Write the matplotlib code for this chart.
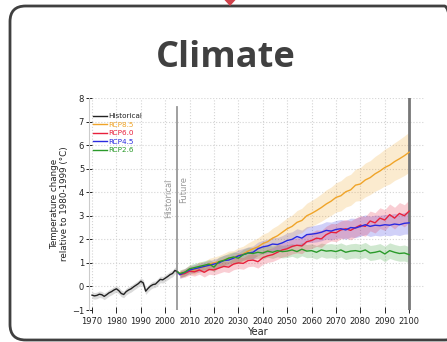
import numpy as np
import matplotlib
matplotlib.use("Agg")
import matplotlib.pyplot as plt
from matplotlib.patches import FancyBboxPatch, Polygon

# ---------------- data ----------------
title = "Climate"
hist_years = list(range(1970, 2006))
hist_vals = [-0.37, -0.40, -0.38, -0.33, -0.35, -0.42, -0.35, -0.27, -0.22, -0.15,
             -0.10, -0.18, -0.30, -0.34, -0.22, -0.15, -0.10, -0.02, 0.05, 0.12,
             0.22, 0.15, -0.20, -0.08, 0.02, 0.08, 0.10, 0.20, 0.30, 0.28,
             0.35, 0.42, 0.50, 0.55, 0.68, 0.62]
hist_spread = 0.14

fut_years = list(range(2006, 2101, 2))
rcp85 = [0.55, 0.60, 0.72, 0.70, 0.85, 0.82, 0.95, 1.00,
         1.05, 1.12, 1.20, 1.22, 1.32, 1.38, 1.50, 1.60,
         1.68, 1.82, 1.90, 2.05, 2.15, 2.30, 2.45, 2.55,
         2.72, 2.80, 3.00, 3.10, 3.22, 3.35, 3.50, 3.62,
         3.78, 3.85, 4.02, 4.10, 4.30, 4.35, 4.52, 4.62,
         4.78, 4.90, 5.05, 5.15, 5.30, 5.42, 5.55, 5.70]
rcp60 = [0.50, 0.55, 0.65, 0.62, 0.70, 0.60, 0.72, 0.70,
         0.78, 0.85, 0.82, 0.95, 1.00, 0.98, 1.10, 1.12,
         1.05, 1.22, 1.30, 1.35, 1.45, 1.55, 1.60, 1.70,
         1.75, 1.72, 1.90, 1.95, 2.05, 2.02, 2.20, 2.30,
         2.28, 2.40, 2.45, 2.38, 2.50, 2.60, 2.55, 2.78,
         2.70, 2.90, 2.82, 3.05, 2.90, 3.10, 3.00, 3.20]
rcp45 = [0.50, 0.60, 0.70, 0.75, 0.80, 0.85, 0.90, 0.95,
         1.00, 1.10, 1.12, 1.20, 1.30, 1.35, 1.42, 1.45,
         1.60, 1.68, 1.72, 1.80, 1.78, 1.85, 1.95, 2.00,
         2.12, 2.05, 2.20, 2.22, 2.25, 2.30, 2.38, 2.35,
         2.42, 2.45, 2.40, 2.50, 2.48, 2.55, 2.62, 2.55,
         2.60, 2.58, 2.62, 2.60, 2.65, 2.62, 2.68, 2.70]
rcp26 = [0.55, 0.60, 0.75, 0.80, 0.85, 0.90, 0.95, 0.82,
         1.05, 1.10, 1.20, 1.25, 1.20, 1.35, 1.42, 1.40,
         1.45, 1.42, 1.50, 1.45, 1.52, 1.48, 1.50, 1.55,
         1.48, 1.58, 1.50, 1.52, 1.45, 1.55, 1.50, 1.52,
         1.48, 1.55, 1.45, 1.50, 1.52, 1.48, 1.55, 1.42,
         1.45, 1.50, 1.38, 1.52, 1.45, 1.40, 1.42, 1.35]

sp85 = [0.15, 0.16, 0.18, 0.20, 0.20, 0.22, 0.24, 0.25,
        0.26, 0.28, 0.30, 0.30, 0.32, 0.33, 0.35, 0.36,
        0.38, 0.40, 0.40, 0.42, 0.44, 0.45, 0.46, 0.48,
        0.50, 0.52, 0.53, 0.55, 0.56, 0.58, 0.60, 0.60,
        0.62, 0.64, 0.65, 0.66, 0.68, 0.70, 0.72, 0.72,
        0.74, 0.76, 0.78, 0.80, 0.80, 0.82, 0.84, 0.85]
sp60 = [0.15, 0.16, 0.17, 0.18, 0.18, 0.20, 0.20, 0.21,
        0.22, 0.22, 0.23, 0.24, 0.24, 0.25, 0.26, 0.26,
        0.27, 0.28, 0.28, 0.29, 0.30, 0.30, 0.31, 0.32,
        0.32, 0.33, 0.34, 0.34, 0.35, 0.36, 0.36, 0.37,
        0.38, 0.38, 0.39, 0.40, 0.40, 0.41, 0.42, 0.42,
        0.43, 0.44, 0.44, 0.45, 0.46, 0.46, 0.47, 0.48]
sp45 = [0.15, 0.16, 0.17, 0.18, 0.19, 0.20, 0.20, 0.21,
        0.22, 0.23, 0.24, 0.24, 0.25, 0.26, 0.26, 0.27,
        0.28, 0.28, 0.29, 0.30, 0.30, 0.31, 0.32, 0.32,
        0.33, 0.34, 0.34, 0.35, 0.36, 0.36, 0.37, 0.38,
        0.38, 0.39, 0.40, 0.40, 0.41, 0.42, 0.42, 0.43,
        0.43, 0.44, 0.44, 0.45, 0.45, 0.46, 0.46, 0.47]
sp26 = [0.15, 0.16, 0.17, 0.18, 0.18, 0.19, 0.20, 0.20,
        0.21, 0.21, 0.22, 0.22, 0.23, 0.23, 0.24, 0.24,
        0.25, 0.25, 0.26, 0.26, 0.26, 0.27, 0.27, 0.27,
        0.28, 0.28, 0.28, 0.29, 0.29, 0.29, 0.30, 0.30,
        0.30, 0.30, 0.31, 0.31, 0.31, 0.31, 0.32, 0.32,
        0.32, 0.32, 0.33, 0.33, 0.33, 0.33, 0.34, 0.34]

labels = ["Historical", "RCP8.5", "RCP6.0", "RCP4.5", "RCP2.6"]
colors = ["#222222", "#f0a428", "#e8203c", "#2a2ae0", "#2a9a2a"]
y_ticks = [-1, 0, 1, 2, 3, 4, 5, 6, 7, 8]
x_ticks = list(range(1970, 2101, 10))

# ---------------- figure ----------------
W, H = 447, 342
fig = plt.figure(figsize=(W / 100, H / 100), dpi=100)
fig.patch.set_facecolor("white")

def fx(px):
    return px / W

def fy(py):
    return 1 - py / H

# rounded outer box
box = FancyBboxPatch((fx(10), fy(340)), fx(460) - fx(10), fy(6) - fy(340),
                     boxstyle="round,pad=0,rounding_size=0.035",
                     transform=fig.transFigure, facecolor="none",
                     edgecolor="#404040", linewidth=2.0, zorder=0,
                     mutation_aspect=W / H)
fig.patches.append(box)

# small red triangle on top
tri = Polygon([[fx(224.5), fy(0)], [fx(235.5), fy(0)], [fx(230), fy(6)]],
              closed=True, transform=fig.transFigure, facecolor="#d0434c",
              edgecolor="none", zorder=2)
fig.patches.append(tri)

fig.text(fx(226), fy(58), title, ha="center", va="center",
         fontsize=26, fontweight="bold", color="#404040", family="Open Sans")

# chart axes
left_px, right_px, top_px, bottom_px = 89, 425, 98, 310
ax = fig.add_axes([fx(left_px), fy(bottom_px), fx(right_px) - fx(left_px),
                   fy(top_px) - fy(bottom_px)])
ax.set_facecolor("none")
x0 = 1970 - 3 / 2.44
ax.set_xlim(x0, x0 + (right_px - left_px) / 2.44)
ax.set_ylim(-1, 8)

# bands
series = [(rcp26, sp26, colors[4]), (rcp45, sp45, colors[3]),
          (rcp60, sp60, colors[2]), (rcp85, sp85, colors[1])]
fy_arr = np.array(fut_years)
for vals, sp, c in series:
    v = np.array(vals); s = np.array(sp)
    ax.fill_between(fy_arr, v - s, v + s, color=c, alpha=0.22, linewidth=0)
hv = np.array(hist_vals)
ax.fill_between(hist_years, hv - hist_spread, hv + hist_spread,
                color="#999999", alpha=0.35, linewidth=0)

handles = []
h, = ax.plot(hist_years, hist_vals, color=colors[0], lw=1.0, label=labels[0])
handles.append(h)
for vals, c, lab in [(rcp85, colors[1], labels[1]), (rcp60, colors[2], labels[2]),
                     (rcp45, colors[3], labels[3]), (rcp26, colors[4], labels[4])]:
    h, = ax.plot([hist_years[-1]] + fut_years, [hist_vals[-1]] + vals,
                 color=c, lw=1.0, label=lab)
    handles.append(h)

# separator lines
ax.plot([2005, 2005], [-1, 7.6], color="#999999", lw=1.3, zorder=1)
ax.axvline(2100, color="#777777", lw=2.0, zorder=1)
ax.text(2001.6, 3.75, "Historical", rotation=90, ha="center", va="center",
        fontsize=6, color="#999999")
ax.text(2007.4, 4.1, "Future", rotation=90, ha="center", va="center",
        fontsize=6, color="#999999")

ax.grid(True, color="#d4d4d4", linestyle=":", linewidth=0.8)
ax.set_axisbelow(True)
for side in ["top", "right", "bottom"]:
    ax.spines[side].set_visible(False)
ax.spines["left"].set_color("#cccccc")
ax.spines["left"].set_linewidth(0.8)

ax.set_yticks(y_ticks)
ax.set_xticks(x_ticks)
ax.tick_params(axis="both", labelsize=6, colors="#222222", direction="inout",
               length=4, width=0.7, pad=1.5)
ax.tick_params(axis="x", pad=3)
ax.set_xlabel("Year", fontsize=7, color="#222222", labelpad=1)
ax.set_ylabel("Temperature change\nrelative to 1980-1999 (°C)", fontsize=6.3,
              color="#222222", labelpad=2, linespacing=1.1)

leg = ax.legend(handles=handles, loc="upper left",
                bbox_to_anchor=((93 - left_px) / (right_px - left_px),
                                1 - (113 - top_px) / (bottom_px - top_px)),
                borderaxespad=0, borderpad=0, frameon=False, fontsize=5.2,
                handlelength=2.0, handletextpad=0.15, labelspacing=0.35,
                labelcolor="linecolor")

fig.savefig("out.png", dpi=100)
